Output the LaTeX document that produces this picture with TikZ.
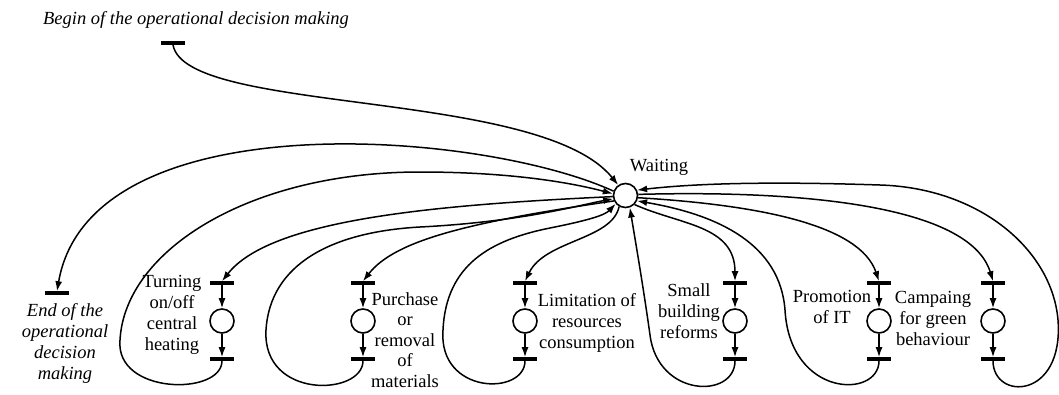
\documentclass[tikz,border=0pt]{standalone}
\usepackage{fontspec}
\setmainfont{Liberation Serif}
\usetikzlibrary{arrows.meta}
\begin{document}
\begin{tikzpicture}[x=1pt,y=-1pt,
  place/.style={circle, draw, line width=1.6pt, minimum size=24pt, inner sep=0pt, fill=white},
  trans/.style={rectangle, fill=black, minimum width=24pt, minimum height=3.2pt, inner sep=0pt},
  arc/.style={line width=1.5pt, -{Latex[length=10pt,width=7pt]}},
  lbl/.style={align=center, inner sep=0pt, font=\fontsize{18.5}{21}\selectfont},
  ilbl/.style={align=center, inner sep=0pt, font=\fontsize{18.5}{21}\selectfont\itshape}]
\fill[white] (0,0) rectangle (1059,394);
\useasboundingbox (0,0) rectangle (1059,394);
\clip (0,0) rectangle (1059,394);

% Waiting place
\node[place] (W) at (625.5,195.5) {};
\node[lbl] (wl) at (659,167) {Waiting};

% begin / end
\node[trans] (tb) at (173,43) {};
\node[ilbl] (bl) at (196,20) {Begin of the operational decision making};
\node[trans] (te) at (57,293) {};
\node[ilbl] (el) at (65,343) {End of the\\operational\\decision\\making};

% subnets
\foreach \i/\x in {1/222,2/363,3/525,4/735,5/879,6/993}{
  \node[trans] (t\i) at (\x,283) {};
  \node[place] (p\i) at (\x,321) {};
  \node[trans] (b\i) at (\x,359) {};
  \draw[arc] (t\i.center) -- (p\i.north);
  \draw[arc] (p\i.south) -- (b\i.north);
}

\node[lbl] (l1) at (172,315) {Turning\\on/off\\central\\heating};
\node[lbl, font=\fontsize{18.5}{20.6}\selectfont] (l2) at (405,340) {Purchase\\or\\removal\\of\\materials};
\node[lbl] (l3) at (587,323) {Limitation of\\resources\\consumption};
\node[lbl] (l4) at (689,311) {Small\\building\\reforms};
\node[lbl] (l5) at (832,307) {Promotion\\of IT};
\node[lbl] (l6) at (933,318) {Campaing\\for green\\behaviour};

% begin and end arcs
\draw[arc] (tb.south) .. controls (185,115) and (540,88) .. (W.125);
\draw[arc] (W.160) .. controls (480,130) and (90,100) .. (te.north);

% 1 Turning
\draw[arc] (b1.south) .. controls +(0,35) and (115,395) .. (120,340)
  .. controls (125,250) and (250,172) .. (420,172)
  .. controls (520,172) and (580,185) .. (W.172);
\draw[arc] (W.185) .. controls (430,205) and (270,220) .. (t1.north);

% 2 Purchase
\draw[arc] (b2.south) .. controls +(0,35) and (262,400) .. (266,330)
  .. controls (270,265) and (330,232) .. (420,227)
  .. controls (520,222) and (580,205) .. (W.195);
\draw[arc] (W.205) .. controls (470,222) and (395,240) .. (t2.north);

% 3 Limitation
\draw[arc] (b3.south) .. controls +(0,35) and (438,395) .. (443,330)
  .. controls (446,265) and (490,240) .. (550,228)
  .. controls (590,220) and (605,215) .. (W.220);
\draw[arc] (W.240) .. controls (612,240) and (545,240) .. (t3.north);

% 4 Small building
\draw[arc] (b4.south) .. controls +(0,38) and (658,398) .. (650,335)
  .. controls (643,285) and (636,245) .. (W.-70);
\draw[arc] (W.-45) .. controls (680,225) and (735,225) .. (t4.north);

% 5 Promotion
\draw[arc] (b5.south) .. controls +(0,38) and (790,398) .. (785,310)
  .. controls (780,245) and (720,215) .. (W.-25);
\draw[arc] (W.-10) .. controls (760,205) and (860,225) .. (t5.north);

% 6 Campaing
\draw[arc] (b6.south) .. controls +(0,40) and (1064,400) .. (1058,320)
  .. controls (1052,250) and (980,188) .. (880,185)
  .. controls (760,181) and (690,184) .. (W.25);
\draw[arc] (W.5) .. controls (800,190) and (970,205) .. (t6.north);
\end{tikzpicture}
\end{document}
